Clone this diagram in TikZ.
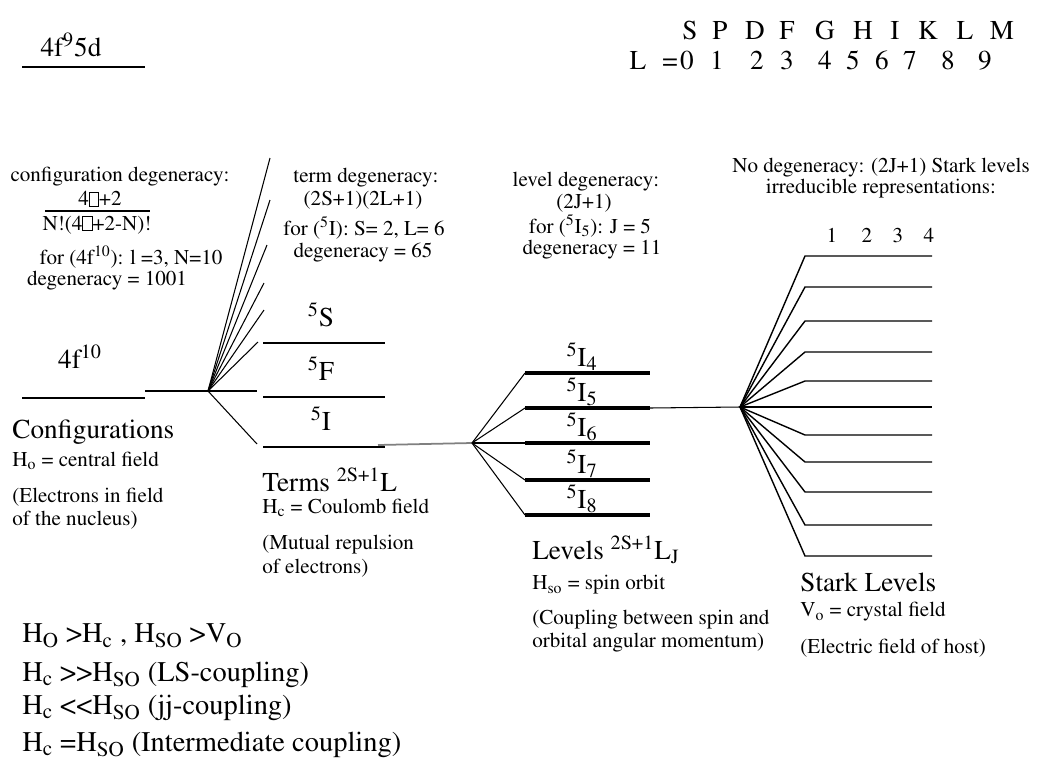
\documentclass[tikz,border=0pt]{standalone}
\usepackage[T1]{fontenc}
\usepackage{mathptmx}
\usetikzlibrary{positioning}
\newcommand{\nobox}{{\setlength{\fboxsep}{0pt}\setlength{\fboxrule}{0.4pt}\fbox{\rule{0pt}{0.62em}\hspace{0.42em}}}}

\begin{document}
\begin{tikzpicture}[x=0.02cm, y=-0.02cm]
\tikzstyle{smalltext} = [inner sep=0pt, font=\fontsize{12}{13}\selectfont]
\tikzstyle{bigtext} = [inner sep=0pt, font=\fontsize{15.5}{17}\selectfont]
\tikzstyle{ruletext} = [inner sep=0pt, anchor=west, font=\fontsize{16.2}{18}\selectfont]
\tikzstyle{thinline} = [line width=0.6pt]
\tikzstyle{levelline} = [line width=2pt]
\tikzstyle{starkline} = [line width=0.8pt]

\useasboundingbox (0,0) rectangle (1037,771);

\node (cfgup) [bigtext] at (71,45) {4f\textsuperscript{9}5d};
\coordinate (cfgupL) at (22,67);
\coordinate (cfgupR) at (145,67);
\draw [thinline] (cfgupL) -- (cfgupR);

\foreach \t/\x in {S/690,P/720,D/755,F/787,G/825,H/863,I/895,K/928,L/965,M/1002}
  \node (let\t) [bigtext, anchor=base] at (\x,39) {\t};
\node (Lsym) [bigtext, anchor=base] at (638,69) {L};
\node (Leq) [bigtext, anchor=base] at (670,69) {=};
\foreach \n/\x in {0/687,1/717,2/757,3/787,4/825,5/853,6/882,7/910,8/948,9/985}
  \node (num\n) [bigtext, anchor=base] at (\x,69) {\n};

\node (cfgdeg) [smalltext] at (120,177) {configuration degeneracy:};
\node (cfgnum) [smalltext] at (100,199) {4\nobox+2};
\coordinate (barL) at (45,211);
\coordinate (barR) at (150,211);
\draw [thinline] (barL) -- (barR);
\node (cfgden) [smalltext] at (97,225) {N!(4\nobox+2-N)!};
\node (cfgfor) [smalltext] at (131,257) {for (4f\textsuperscript{10}): l =3, N=10};
\node (cfgval) [smalltext] at (107,281) {degeneracy = 1001};

\node (cfg) [bigtext] at (80,357) {4f\textsuperscript{10}};
\coordinate (cfgL) at (22,398);
\coordinate (cfgR) at (145,398);
\draw [thinline] (cfgL) -- (cfgR);
\node (cfgname) [bigtext, anchor=west] at (12,432) {Configurations};
\node (cfgH) [smalltext, anchor=west] at (12,461) {H\textsubscript{o} = central field};
\node (cfgE1) [smalltext, anchor=west] at (12,497) {(Electrons in field};
\node (cfgE2) [smalltext, anchor=west] at (12,520) {of the nucleus)};

\coordinate (fanT) at (208,391);
\coordinate (fanTL) at (145,391);
\coordinate (fanTR) at (257,391);
\coordinate (fanTD) at (257,444);
\draw [thinline] (fanTL) -- (fanTR);
\draw [thinline] (fanT) -- (fanTD);
\foreach \x/\y [count=\i] in {270/158,270/200,267/245,264/283,264/310,258/342}
  {\coordinate (tup\i) at (\x,\y); \draw [thinline] (fanT) -- (tup\i);}

\node (tdeg) [smalltext] at (366,178) {term degeneracy:};
\node (tform) [smalltext] at (363,200) {(2S+1)(2L+1)};
\node (tfor) [smalltext] at (364,228) {for (\textsuperscript{5}I): S= 2, L= 6};
\node (tval) [smalltext] at (363,253) {degeneracy = 65};

\foreach \t/\y in {S/343,F/397,I/447}
  {\coordinate (t\t a) at (263,\y); \coordinate (t\t b) at (385,\y);
   \draw [thinline] (t\t a) -- (t\t b);
   \node (lab\t) [bigtext, anchor=base] at (321,\y-17) {\textsuperscript{5}\t};}

\node (tname) [bigtext, anchor=west] at (262,480) {Terms \textsuperscript{2S+1}L};
\node (tH) [smalltext, anchor=west] at (262,508) {H\textsubscript{c} = Coulomb field};
\node (tM1) [smalltext, anchor=west] at (262,545) {(Mutual repulsion};
\node (tM2) [smalltext, anchor=west] at (262,568) {of electrons)};

\coordinate (fanL) at (472,443);
\coordinate (tIg) at (378,445);
\draw [line width=1pt, gray] (tIg) -- (fanL);
\foreach \j/\y in {4/373,5/408,6/443,7/480,8/515}
  {\coordinate (lv\j a) at (525,\y); \coordinate (lv\j b) at (650,\y);
   \draw [thinline] (fanL) -- (lv\j a);
   \draw [levelline] (lv\j a) -- (lv\j b);
   \node (lab\j) [bigtext, anchor=base] at (582,\y-7) {\textsuperscript{5}I\textsubscript{\j}};}

\node (ldeg) [smalltext] at (586,182) {level degeneracy:};
\node (lform) [smalltext] at (584,203) {(2J+1)};
\node (lfor) [smalltext] at (590,226) {for (\textsuperscript{5}I\textsubscript{5}): J = 5};
\node (lval) [smalltext] at (592,250) {degeneracy = 11};

\node (lname) [bigtext, anchor=west] at (532,550) {Levels \textsuperscript{2S+1}L\textsubscript{J}};
\node (lH) [smalltext, anchor=west] at (532,585) {H\textsubscript{so} = spin orbit};
\node (lC1) [smalltext, anchor=west] at (532,620) {(Coupling between spin and};
\node (lC2) [smalltext, anchor=west] at (532,643) {orbital angular momentum)};

\coordinate (fanS) at (740,407);
\draw [thinline] (lv5b) -- (fanS);
\foreach \y [count=\i] in {256,287,321,352,381,407,435,462,492,525,556}
  {\coordinate (sk\i a) at (805,\y); \coordinate (sk\i b) at (932,\y);
   \draw [starkline] (fanS) -- (sk\i a) -- (sk\i b);}

\node (sdeg) [smalltext, align=center, font=\fontsize{12}{10.5}\selectfont] at (881,178) {No degeneracy: (2J+1) Stark levels\\irreducible representations:};
\foreach \r/\x in {1/832,2/867,3/898,4/929}
  \node (irr\r) [smalltext] at (\x,235) {\r};

\node (sname) [bigtext, anchor=west] at (800,582) {Stark Levels};
\node (sV) [smalltext, anchor=west] at (800,612) {V\textsubscript{o} = crystal field};
\node (sE) [smalltext, anchor=west] at (800,648) {(Electric field of host)};

\node (rule1) [ruletext] at (22,636) {H\textsubscript{O} >H\textsubscript{c} , H\textsubscript{SO} >V\textsubscript{O}};
\node (rule2) [ruletext] at (22,675) {H\textsubscript{c} >{}>H\textsubscript{SO} (LS-coupling)};
\node (rule3) [ruletext] at (22,708) {H\textsubscript{c} <{}<H\textsubscript{SO} (jj-coupling)};
\node (rule4) [ruletext] at (22,745) {H\textsubscript{c} =H\textsubscript{SO} (Intermediate coupling)};
\end{tikzpicture}
\end{document}
